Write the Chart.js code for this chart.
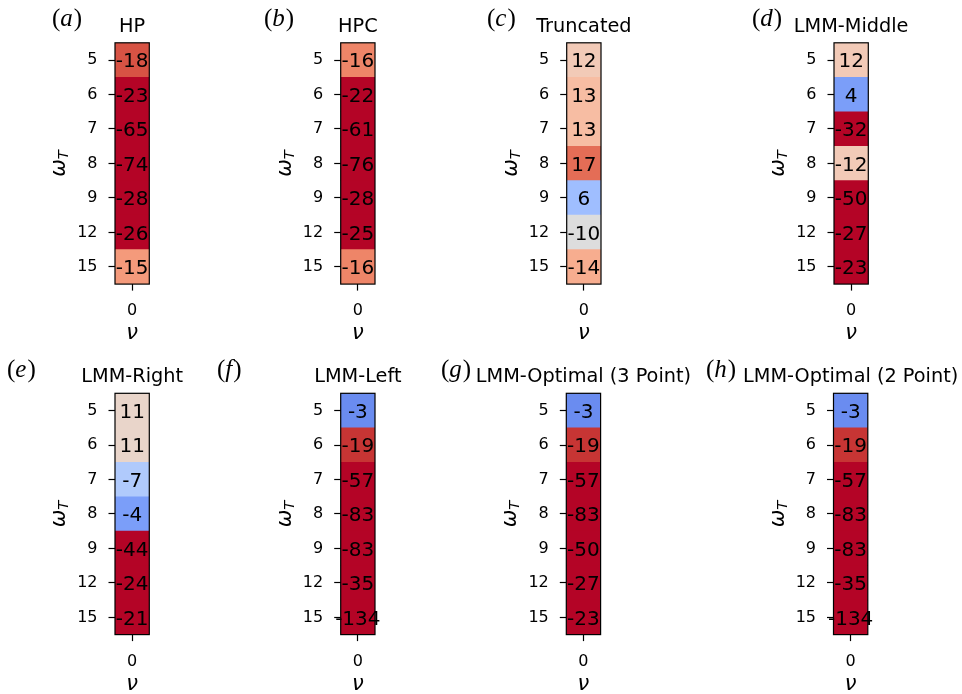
<!DOCTYPE html>
<html>
<head>
<meta charset="utf-8">
<script src="https://cdn.jsdelivr.net/npm/chart.js@4.4.1/dist/chart.umd.min.js"></script>
<style>
html,body{margin:0;padding:0;background:#fff;}
#wrap{position:relative;width:962px;height:694px;overflow:hidden;background:#fff;}
canvas{position:absolute;}
</style>
</head>
<body>
<div id="wrap"></div>
<script>
// ---------- data ----------
const omegaT = ['5', '6', '7', '8', '9', '12', '15'];
const nu = [0];
const panelLetters = ['a', 'b', 'c', 'd', 'e', 'f', 'g', 'h'];
const panelTitles = ['HP', 'HPC', 'Truncated', 'LMM-Middle', 'LMM-Right', 'LMM-Left',
                     'LMM-Optimal (3 Point)', 'LMM-Optimal (2 Point)'];
const hp          = [-18, -23, -65, -74, -28, -26, -15];
const hpc         = [-16, -22, -61, -76, -28, -25, -16];
const truncated   = [12, 13, 13, 17, 6, -10, -14];
const lmmMiddle   = [12, 4, -32, -12, -50, -27, -23];
const lmmRight    = [11, 11, -7, -4, -44, -24, -21];
const lmmLeft     = [-3, -19, -57, -83, -83, -35, -134];
const lmmOpt3     = [-3, -19, -57, -83, -50, -27, -23];
const lmmOpt2     = [-3, -19, -57, -83, -83, -35, -134];
const panelValues = [hp, hpc, truncated, lmmMiddle, lmmRight, lmmLeft, lmmOpt3, lmmOpt2];
const colorMin = 0, colorMax = 20;   // colour scale applied to |value|

// ---------- layout (positions only) ----------
const panelLayout = [
  {x: 115.0, y: 42.8,  w: 34.3, h: 241.3, letterX: 52},
  {x: 340.7, y: 42.8,  w: 34.3, h: 241.3, letterX: 264},
  {x: 566.7, y: 42.8,  w: 34.3, h: 241.3, letterX: 487},
  {x: 834.0, y: 42.8,  w: 34.3, h: 241.3, letterX: 752},
  {x: 115.0, y: 393.3, w: 34.3, h: 241.3, letterX: 7},
  {x: 340.7, y: 393.3, w: 34.3, h: 241.3, letterX: 217},
  {x: 566.3, y: 393.3, w: 34.3, h: 241.3, letterX: 441},
  {x: 833.5, y: 393.3, w: 34.3, h: 241.3, letterX: 706}
];

// ---------- coolwarm colormap ----------
const CW = [[59,76,192],[68,90,204],[77,104,215],[87,117,225],[98,130,234],[108,142,241],[119,154,247],
[130,165,251],[141,176,254],[152,185,255],[163,194,255],[174,201,253],[184,208,249],[194,213,244],
[204,217,238],[213,219,230],[221,221,221],[229,216,209],[236,211,197],[241,204,185],[245,196,173],
[247,187,160],[247,177,148],[247,166,135],[244,154,123],[241,141,111],[236,127,99],[229,112,88],
[222,96,77],[213,80,66],[203,62,56],[192,40,47],[180,4,38]];
function coolwarm(t) {
  t = Math.max(0, Math.min(1, t));
  const f = t * 32, i = Math.min(31, Math.floor(f)), r = f - i;
  const a = CW[i], b = CW[i + 1];
  return 'rgb(' + [0,1,2].map(k => Math.round(a[k] + (b[k] - a[k]) * r)).join(',') + ')';
}
const colorOf = v => coolwarm((Math.abs(v) - colorMin) / (colorMax - colorMin));

const FONT = '"DejaVu Sans", sans-serif';
const TICK_FS = 16, ANN_FS = 20, TITLE_FS = 19.3, MATH_FS = 21;

const decoPlugin = {
  id: 'deco',
  afterDatasetsDraw(chart, args, o) {
    const {ctx, chartArea: a, scales: {x, y}} = chart;
    ctx.save();
    // frame
    ctx.lineWidth = 1.2; ctx.strokeStyle = '#000';
    ctx.strokeRect(a.left, a.top, a.right - a.left, a.bottom - a.top);
    // annotations
    ctx.font = ANN_FS + 'px ' + FONT; ctx.fillStyle = '#000';
    ctx.textAlign = 'center'; ctx.textBaseline = 'alphabetic';
    o.values.forEach((v, i) => {
      ctx.fillText(String(v), x.getPixelForValue(nu[0]), y.getPixelForValue(i) + 0.729 * ANN_FS / 2);
    });
    const cx = (a.left + a.right) / 2;
    // title
    ctx.font = TITLE_FS + 'px ' + FONT;
    ctx.fillText(o.title, cx, a.top - 11);
    // letter (a)
    ctx.textAlign = 'left';
    let lx = o.letterX;
    const by = a.top - 16.5;
    ctx.font = '25px "Liberation Serif", serif';
    ctx.fillText('(', lx, by); lx += ctx.measureText('(').width;
    ctx.font = 'italic 25px "Liberation Serif", serif';
    ctx.fillText(o.letter, lx, by); lx += ctx.measureText(o.letter).width + 1;
    ctx.font = '25px "Liberation Serif", serif';
    ctx.fillText(')', lx, by);
    // x label nu
    ctx.textAlign = 'center';
    ctx.font = 'italic ' + MATH_FS + 'px ' + FONT;
    ctx.fillText('\u03BD', cx, a.bottom + 55);
    // y label omega_T
    ctx.save();
    ctx.translate(a.left - 50, (a.top + a.bottom) / 2);
    ctx.rotate(-Math.PI / 2);
    ctx.font = 'italic ' + MATH_FS + 'px ' + FONT;
    const wW = ctx.measureText('\u03C9').width;
    ctx.font = 'italic ' + (MATH_FS * 0.7) + 'px ' + FONT;
    const wT = ctx.measureText('T').width;
    const x0 = -(wW + wT) / 2;
    ctx.textAlign = 'left';
    ctx.font = 'italic ' + MATH_FS + 'px ' + FONT;
    ctx.fillText('\u03C9', x0, 0);
    ctx.font = 'italic ' + (MATH_FS * 0.7) + 'px ' + FONT;
    ctx.fillText('T', x0 + wW, 3);
    ctx.restore();
    ctx.restore();
  }
};

const wrap = document.getElementById('wrap');
panelValues.forEach((vals, p) => {
  const L = panelLayout[p];
  const cLeft = Math.floor(L.x) - 130, cTop = Math.floor(L.y) - 43;
  const cW = 262, cH = 350;
  const yW = L.x - cLeft, padTop = L.y - cTop;
  const xH = cH - padTop - L.h;
  const padRight = cW - yW - L.w;
  const cv = document.createElement('canvas');
  cv.width = cW; cv.height = cH;
  cv.style.left = cLeft + 'px'; cv.style.top = cTop + 'px';
  cv.style.width = cW + 'px'; cv.style.height = cH + 'px';
  wrap.appendChild(cv);
  new Chart(cv, {
    type: 'bar',
    data: {
      labels: omegaT,
      datasets: nu.map(n => ({
        data: vals.map(() => [n - 0.5, n + 0.5]),
        backgroundColor: vals.map(colorOf),
        borderWidth: 0,
        barPercentage: 1,
        categoryPercentage: 1
      }))
    },
    options: {
      indexAxis: 'y',
      responsive: false,
      animation: false,
      devicePixelRatio: 1,
      layout: {padding: {top: padTop, right: padRight, left: 0, bottom: 0}},
      plugins: {
        legend: {display: false},
        tooltip: {enabled: false},
        deco: {values: vals, title: panelTitles[p], letter: panelLetters[p], letterX: L.letterX - cLeft}
      },
      scales: {
        x: {
          type: 'linear', min: nu[0] - 0.5, max: nu[nu.length - 1] + 0.5,
          afterBuildTicks: s => { s.ticks = nu.map(v => ({value: v})); },
          afterFit: s => { s.height = xH; },
          grid: {drawOnChartArea: false, drawTicks: true, tickLength: 6.5, tickColor: '#000', tickWidth: 1.2},
          border: {display: false},
          ticks: {color: '#000', font: {family: FONT, size: TICK_FS}, padding: 11, maxRotation: 0}
        },
        y: {
          type: 'category', offset: true,
          afterFit: s => { s.width = yW; },
          grid: {offset: false, drawOnChartArea: false, drawTicks: true, tickLength: 6.5, tickColor: '#000', tickWidth: 1.2},
          border: {display: false},
          ticks: {color: '#000', font: {family: FONT, size: TICK_FS}, padding: 11}
        }
      }
    },
    plugins: [decoPlugin]
  });
});
</script>
</body>
</html>
